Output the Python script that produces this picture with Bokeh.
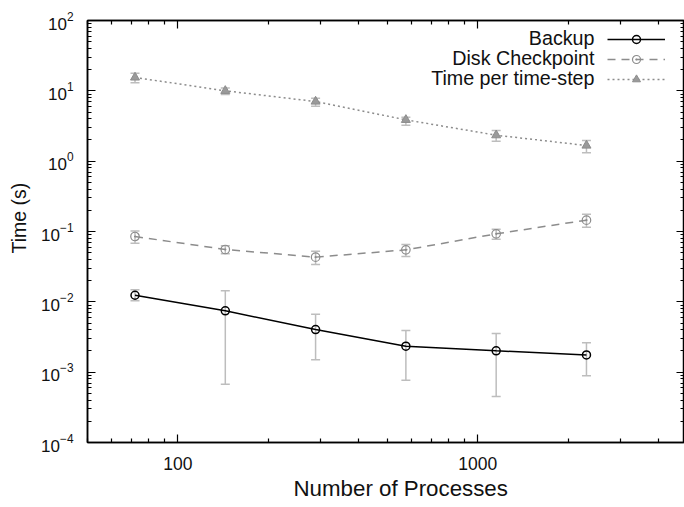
from bokeh.plotting import figure
from bokeh.models import (LogAxis, FixedTicker, Whisker, TeeHead, ColumnDataSource,
                          Legend, LegendItem, Label, PrintfTickFormatter, Range1d, Title)
from bokeh.embed import file_html
from bokeh.resources import INLINE

# ---- data ----
procs = [72, 144, 288, 576, 1152, 2304]

backup = [0.0124, 0.00745, 0.00403, 0.00234, 0.00201, 0.00176]
backup_lo = [0.0104, 0.000675, 0.0015, 0.00077, 0.00045, 0.00089]
backup_hi = [0.0148, 0.0144, 0.00667, 0.00391, 0.00354, 0.00261]

disk = [0.0849, 0.0555, 0.0432, 0.0548, 0.0927, 0.145]
disk_lo = [0.0683, 0.0482, 0.034, 0.044, 0.0776, 0.115]
disk_hi = [0.102, 0.0625, 0.0525, 0.0653, 0.108, 0.176]

step = [15.5, 10.0, 7.05, 3.87, 2.34, 1.67]
step_lo = [13.0, 8.87, 6.04, 3.24, 1.92, 1.32]
step_hi = [17.8, 11.0, 7.85, 4.22, 2.73, 1.97]

series_names = ["Backup", "Disk Checkpoint", "Time per time-step"]
x_major = [100, 1000]
y_major_exp = [-4, -3, -2, -1, 0, 1, 2]

FONT = "Liberation Sans"
ERR = "#bdbdbd"
GRAY = "#8c8c8c"

p = figure(width=684, height=507, x_axis_type="log", y_axis_type="log",
           x_range=Range1d(50, 4890), y_range=Range1d(1e-4, 1e2),
           output_backend="svg", toolbar_location=None,
           min_border_left=87, min_border_right=0, min_border_top=20, min_border_bottom=65)
p.grid.visible = False
p.outline_line_color = "black"
p.outline_line_width = 1.5
p.background_fill_color = "white"
p.border_fill_color = "white"

x_minor = [m * 10 ** e for e in (1, 2, 3) for m in range(2, 10) if 50 <= m * 10 ** e <= 4890]
y_major = [10.0 ** e for e in y_major_exp]
y_minor = [m * 10.0 ** e for e in range(-4, 2) for m in range(2, 10)]


def style(ax, show_labels=True):
    ax.axis_line_color = "black"
    ax.axis_line_width = 1.5
    ax.major_tick_line_color = "black"
    ax.minor_tick_line_color = "black"
    ax.major_tick_line_width = 1.2
    ax.minor_tick_line_width = 1.2
    ax.major_tick_in = 8
    ax.major_tick_out = 0
    ax.minor_tick_in = 4
    ax.minor_tick_out = 0
    ax.major_label_text_font = FONT
    ax.major_label_text_color = "#111111"
    if not show_labels:
        ax.formatter = PrintfTickFormatter(format=" ")
        ax.major_label_text_font_size = "1px"
        ax.major_label_text_alpha = 0
        ax.major_label_standoff = 0


xa = p.xaxis[0]
xa.ticker = FixedTicker(ticks=x_major, minor_ticks=x_minor)
xa.formatter = PrintfTickFormatter(format="%d")
style(xa)
xa.major_label_text_font_size = "17.5px"
xa.major_label_standoff = 14

ya = p.yaxis[0]
ya.ticker = FixedTicker(ticks=y_major, minor_ticks=y_minor)
style(ya)
ya.major_label_text_font_size = "17px"
ya.major_label_standoff = 14

top = LogAxis(ticker=FixedTicker(ticks=x_major, minor_ticks=x_minor))
style(top, False)
p.add_layout(top, "above")
right = LogAxis(ticker=FixedTicker(ticks=y_major, minor_ticks=y_minor))
style(right, False)
p.add_layout(right, "right")

# axis titles
p.add_layout(Title(text="Number of Processes", align="left", offset=206,
                   text_font=FONT, text_font_size="22.3px", text_font_style="normal",
                   text_color="#111111", vertical_align="top", standoff=6), "below")
p.add_layout(Title(text="Time (s)", align="left", offset=189,
                   text_font=FONT, text_font_size="19.5px", text_font_style="normal",
                   text_color="#111111", vertical_align="top", standoff=14), "left")

# ---- error bars ----
for vals, lo, hi in ((backup, backup_lo, backup_hi), (disk, disk_lo, disk_hi), (step, step_lo, step_hi)):
    src = ColumnDataSource(dict(x=procs, y=vals, lo=lo, hi=hi))
    w = Whisker(source=src, base="x", upper="hi", lower="lo", dimension="height",
                line_color=ERR, line_width=1.5, level="underlay",
                upper_head=TeeHead(size=9, line_color=ERR, line_width=1.5),
                lower_head=TeeHead(size=9, line_color=ERR, line_width=1.5))
    p.add_layout(w)

# ---- series ----
l1 = p.line(procs, backup, line_color="black", line_width=1.5)
s1 = p.scatter(procs, backup, marker="circle", size=8, line_color="black",
               fill_color=None, line_width=1.5)
l2 = p.line(procs, disk, line_color=GRAY, line_width=1.5, line_dash="8 6")
s2 = p.scatter(procs, disk, marker="circle_dot", size=8.5, line_color=GRAY,
               fill_color=None, line_width=1.2)
l3 = p.line(procs, step, line_color=GRAY, line_width=1.5, line_dash="2 3")
s3 = p.scatter(procs, step, marker="triangle", size=9, line_color=GRAY,
               fill_color="#9a9a9a", line_width=1)

legend = Legend(items=[LegendItem(label=" ", renderers=[l1, s1]),
                       LegendItem(label=" ", renderers=[l2, s2]),
                       LegendItem(label=" ", renderers=[l3, s3])],
                location=(520, 353), orientation="vertical",
                glyph_width=58, glyph_height=20, spacing=0, padding=0, margin=0,
                label_standoff=0, label_text_font_size="1px",
                border_line_color=None, background_fill_alpha=0)
p.add_layout(legend)

for name, yy in zip(series_names, (405, 384.7, 364.4)):
    p.add_layout(Label(x=507, y=yy, x_units="screen", y_units="screen", text=name,
                       text_align="right", text_baseline="middle",
                       text_font=FONT, text_font_size="19.7px", text_color="#111111"))

open("out.html", "w").write(file_html(p, INLINE))
